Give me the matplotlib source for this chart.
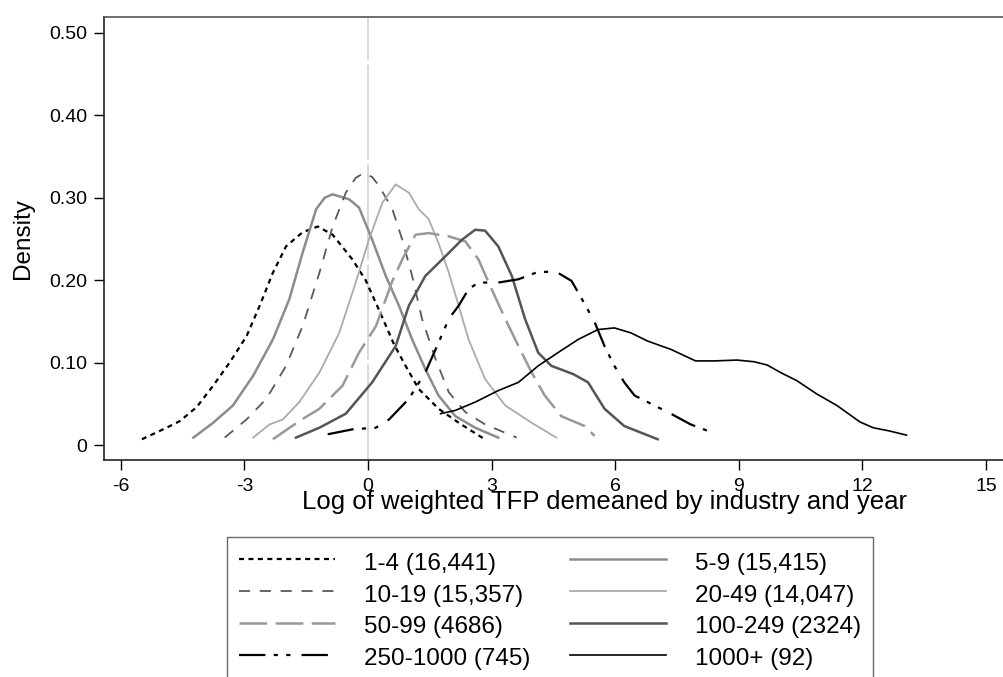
import matplotlib
matplotlib.use("Agg")
import matplotlib.pyplot as plt

plt.rcParams['font.family'] = ['Liberation Sans', 'DejaVu Sans']
plt.rcParams['lines.scale_dashes'] = False

# size-class labels (employees, number of firms)
labels = ["1-4 (16,441)", "5-9 (15,415)", "10-19 (15,357)", "20-49 (14,047)",
          "50-99 (4686)", "100-249 (2324)", "250-1000 (745)", "1000+ (92)"]

# kernel densities
x_1_4 = [-5.49, -4.89, -4.57, -4.16, -3.76, -3.36, -2.95, -2.63, -2.31, -1.99, -1.59,
         -1.22, -0.86, -0.38, -0.06, 0.30, 0.63, 0.90, 1.23, 1.71, 2.20, 2.80]
y_1_4 = [0.007, 0.021, 0.029, 0.046, 0.072, 0.100, 0.132, 0.169, 0.209, 0.241, 0.258,
         0.265, 0.255, 0.225, 0.200, 0.160, 0.122, 0.097, 0.068, 0.044, 0.027, 0.008]

x_5_9 = [-4.24, -3.76, -3.28, -2.79, -2.31, -1.91, -1.59, -1.26, -1.05, -0.86, -0.46,
         -0.22, 0.10, 0.43, 0.75, 1.07, 1.39, 1.71, 2.12, 2.60, 3.16]
y_5_9 = [0.009, 0.027, 0.048, 0.084, 0.128, 0.177, 0.233, 0.286, 0.300, 0.304, 0.298,
         0.288, 0.249, 0.205, 0.169, 0.128, 0.092, 0.060, 0.035, 0.021, 0.009]

x_10_19 = [-3.48, -2.95, -2.47, -1.99, -1.59, -1.18, -0.86, -0.54, -0.30, -0.10, 0.10,
           0.27, 0.59, 0.83, 1.07, 1.31, 1.64, 1.96, 2.36, 2.84, 3.61]
y_10_19 = [0.009, 0.031, 0.056, 0.096, 0.144, 0.209, 0.265, 0.306, 0.324, 0.330, 0.325,
           0.314, 0.286, 0.249, 0.205, 0.153, 0.104, 0.064, 0.040, 0.025, 0.009]

x_20_49 = [-2.79, -2.39, -2.07, -1.67, -1.18, -0.70, -0.30, 0.02, 0.35, 0.67, 0.99,
           1.23, 1.47, 1.71, 1.96, 2.20, 2.44, 2.84, 3.33, 3.97, 4.57]
y_20_49 = [0.009, 0.025, 0.031, 0.052, 0.088, 0.136, 0.197, 0.249, 0.294, 0.316, 0.306,
           0.286, 0.274, 0.245, 0.209, 0.169, 0.128, 0.080, 0.048, 0.027, 0.009]

x_50_99 = [-2.31, -1.67, -1.18, -0.62, -0.22, 0.19, 0.59, 0.83, 1.15, 1.47, 1.96, 2.36,
           2.68, 3.00, 3.33, 3.65, 3.97, 4.29, 4.69, 5.26, 5.50]
y_50_99 = [0.007, 0.029, 0.044, 0.072, 0.112, 0.144, 0.199, 0.225, 0.255, 0.257, 0.253,
           0.247, 0.225, 0.189, 0.153, 0.120, 0.088, 0.060, 0.035, 0.023, 0.011]

x_100_249 = [-1.75, -1.18, -0.54, 0.10, 0.67, 0.99, 1.39, 1.88, 2.28, 2.60, 2.84, 3.16,
             3.49, 3.81, 4.13, 4.45, 4.98, 5.34, 5.74, 6.22, 7.03]
y_100_249 = [0.009, 0.021, 0.038, 0.076, 0.120, 0.169, 0.205, 0.229, 0.249, 0.261, 0.260,
             0.241, 0.205, 0.153, 0.112, 0.096, 0.086, 0.076, 0.044, 0.023, 0.007]

x_250_1000 = [-0.98, -0.38, 0.19, 0.51, 0.99, 1.39, 1.71, 1.96, 2.20, 2.44, 2.68, 3.16,
              3.65, 4.13, 4.57, 4.94, 5.26, 5.50, 5.74, 5.98, 6.22, 6.47, 6.87, 7.35,
              7.83, 8.36]
y_250_1000 = [0.013, 0.019, 0.021, 0.031, 0.056, 0.088, 0.124, 0.153, 0.169, 0.189, 0.197,
              0.197, 0.201, 0.210, 0.210, 0.199, 0.171, 0.149, 0.120, 0.096, 0.076, 0.060,
              0.050, 0.038, 0.025, 0.015]

x_1000 = [1.76, 2.12, 2.60, 3.16, 3.65, 4.13, 4.61, 5.10, 5.58, 5.98, 6.38, 6.79, 7.35,
          7.95, 8.40, 8.96, 9.37, 9.69, 10.01, 10.41, 10.89, 11.38, 11.94, 12.26, 12.66,
          13.07]
y_1000 = [0.038, 0.042, 0.052, 0.066, 0.076, 0.096, 0.112, 0.128, 0.140, 0.142, 0.136,
          0.126, 0.116, 0.102, 0.102, 0.103, 0.101, 0.097, 0.088, 0.078, 0.062, 0.048,
          0.028, 0.021, 0.017, 0.012]

xticks = [-6, -3, 0, 3, 6, 9, 12, 15]
xtick_labels = ["-6", "-3", "0", "3", "6", "9", "12", "15"]
yticks = [0, 0.1, 0.2, 0.3, 0.4, 0.5]
ytick_labels = ["0", "0.10", "0.20", "0.30", "0.40", "0.50"]

fig = plt.figure(figsize=(10.04, 6.77), dpi=100)
# axes run past the right edge of the picture, as in the cropped original
ax = fig.add_axes([0.1036, 0.3205, 0.997, 0.6548])

ax.axvline(0, color='#d2d2d2', linewidth=1.2, dashes=(68.4, 3.6), zorder=1)

series = [
    (x_1_4, y_1_4, dict(color='black', lw=1.6, dashes=(3.6, 3.2))),
    (x_5_9, y_5_9, dict(color='#8c8c8c', lw=1.8)),
    (x_10_19, y_10_19, dict(color='#5a5a5a', lw=1.3, dashes=(8, 7))),
    (x_20_49, y_20_49, dict(color='#ababab', lw=1.3)),
    (x_50_99, y_50_99, dict(color='#999999', lw=1.8, dashes=(20, 6))),
    (x_100_249, y_100_249, dict(color='#555555', lw=1.8)),
    (x_250_1000, y_250_1000, dict(color='black', lw=1.6, dashes=(19, 6, 3, 6, 3, 8))),
    (x_1000, y_1000, dict(color='black', lw=1.2)),
]
handles = []
for (xs, ys, style), lab in zip(series, labels):
    line, = ax.plot(xs, ys, label=lab, zorder=2, **style)
    handles.append(line)

ax.set_xlim(-6.41, 17.89)
ax.set_ylim(-0.0182, 0.5194)
ax.set_xticks(xticks)
ax.set_xticklabels(xtick_labels)
ax.set_yticks(yticks)
ax.set_yticklabels(ytick_labels)
ax.tick_params(axis='both', direction='out', length=7, width=1, labelsize=14, colors='black')
ax.tick_params(axis='x', pad=6)
ax.tick_params(axis='y', pad=5)

for side in ['left', 'bottom', 'top', 'right']:
    ax.spines[side].set_linewidth(1.2)
    ax.spines[side].set_color('#222222')
ax.spines['top'].set_color('#555555')

ax.set_xlabel("Log of weighted TFP demeaned by industry and year", fontsize=18.5, labelpad=-4)
ax.set_ylabel("Density", fontsize=17.5, labelpad=11)

# legend fills row by row in the original, matplotlib fills column by column
order = [0, 2, 4, 6, 1, 3, 5, 7]
leg = fig.legend([handles[i] for i in order], [labels[i] for i in order], ncol=2,
                 loc='upper left', bbox_to_anchor=(227 / 1004, 1 - 537 / 677),
                 fontsize=17.5, frameon=True, fancybox=False, edgecolor='#444444',
                 handlelength=3.95, handleheight=1.2, handletextpad=1.2,
                 columnspacing=1.6, labelspacing=0.25, borderpad=0.5, borderaxespad=0)
leg.get_frame().set_linewidth(1.0)

fig.savefig("out.png", dpi=100)
